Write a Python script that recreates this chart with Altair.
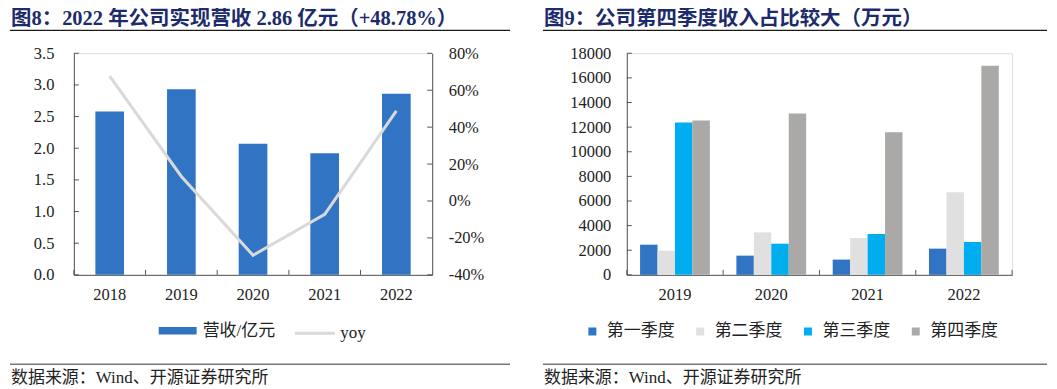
import altair as alt
import pandas as pd

# ---------------- data ----------------
YEARS = ["2018", "2019", "2020", "2021", "2022"]
REVENUE = [2.58, 2.93, 2.07, 1.92, 2.86]
YOY = [0.676, 0.133, -0.294, -0.072, 0.4878]
LEFT_TICKS = [0, 0.5, 1.0, 1.5, 2.0, 2.5, 3.0, 3.5]
RIGHT_TICKS = [-0.4, -0.2, 0.0, 0.2, 0.4, 0.6, 0.8]

Q_YEARS = ["2019", "2020", "2021", "2022"]
QUARTERS = ["第一季度", "第二季度", "第三季度", "第四季度"]
Q1 = [2450, 1560, 1240, 2130]
Q2 = [1960, 3450, 2990, 6710]
Q3 = [12370, 2530, 3320, 2670]
Q4 = [12530, 13100, 11590, 16980]
Q_TICKS = [0, 2000, 4000, 6000, 8000, 10000, 12000, 14000, 16000, 18000]

TITLE_L = "图8：2022 年公司实现营收 2.86 亿元（+48.78%）"
TITLE_R = "图9：公司第四季度收入占比较大（万元）"
SOURCE = "数据来源：Wind、开源证券研究所"
BAR_NAME = "营收/亿元"
LINE_NAME = "yoy"

# ---------------- styles ----------------
FONT = "'Liberation Serif', 'Noto Sans CJK SC', serif"
NAVY = "#1C2B6B"
AXIS_C = "#555555"
TXT_C = "#222222"
BLUE = "#3174C4"
LINE_C = "#D9D9D9"
Q_COLORS = ["#3174C4", "#E0E0E0", "#00AEEF", "#AAA9A8"]
LBL = 16.5

WL, HL = 359, 222
WR, HR = 386, 222

one = pd.DataFrame({"a": [0]})


def axis_common(**kw):
    return alt.Axis(title=None, grid=False, ticks=False, tickSize=0,
                    domainColor=AXIS_C, domainWidth=1,
                    labelFont=FONT, labelFontSize=LBL, labelColor=TXT_C, **kw)


def deco(title, x0, x1):
    t = alt.Chart(pd.DataFrame({"t": [title]})).mark_text(
        align="left", baseline="middle", font=FONT, fontSize=20.5,
        fontWeight="bold", color=NAVY
    ).encode(text="t:N", x=alt.value(x0 + 1), y=alt.value(-34))
    ul = alt.Chart(one).mark_rule(color="#1a1a1a", strokeWidth=1.3).encode(
        x=alt.value(x0), x2=alt.value(x1), y=alt.value(-23))
    fl = alt.Chart(one).mark_rule(color="#333333", strokeWidth=1).encode(
        x=alt.value(x0), x2=alt.value(x1), y=alt.value(311.5))
    ft = alt.Chart(pd.DataFrame({"t": [SOURCE]})).mark_text(
        align="left", baseline="middle", font=FONT, fontSize=17, color=TXT_C
    ).encode(text="t:N", x=alt.value(x0 + 1), y=alt.value(325))
    return [t, ul, fl, ft]


# ---------------- left chart ----------------
df_l = pd.DataFrame({"year": YEARS, "rev": REVENUE, "yoy": YOY,
                     "s_bar": BAR_NAME, "s_line": LINE_NAME})


def xl(bp=None):
    kw = {}
    if bp is not None:
        kw["bandPosition"] = bp
    return alt.X("year:N",
                 scale=alt.Scale(domain=YEARS, paddingInner=0, paddingOuter=0),
                 axis=axis_common(labelAngle=0, labelPadding=12), **kw)


bars_l = alt.Chart(df_l).mark_bar(width=alt.RelativeBandSize(0.4)).encode(
    x=xl(),
    y=alt.Y("rev:Q", scale=alt.Scale(domain=[0, 3.5], nice=False, zero=True),
            axis=axis_common(values=LEFT_TICKS, format=".1f", labelPadding=20)),
    color=alt.Color("s_bar:N", scale=alt.Scale(domain=[BAR_NAME], range=[BLUE]),
                    legend=alt.Legend(orient="none", legendX=85, legendY=259,
                                      title=None, symbolType="M-1,-0.2H1V0.2H-1Z",
                                      symbolSize=1444, symbolStrokeWidth=0,
                                      labelFont=FONT, labelFontSize=17,
                                      labelColor=TXT_C, labelOffset=6)),
)

line_l = alt.Chart(df_l).mark_line(strokeWidth=3).encode(
    x=xl(),
    y=alt.Y("yoy:Q", scale=alt.Scale(domain=[-0.4, 0.8], nice=False, zero=False),
            axis=axis_common(orient="right", values=RIGHT_TICKS,
                             labelExpr="round(datum.value*100) + '%'",
                             labelPadding=16)),
    stroke=alt.Stroke("s_line:N", scale=alt.Scale(domain=[LINE_NAME], range=[LINE_C]),
                      legend=alt.Legend(orient="none", legendX=220, legendY=259,
                                        title=None, symbolType="M-1,0H1",
                                        symbolSize=1600, symbolStrokeWidth=3,
                                        labelFont=FONT, labelFontSize=17,
                                        labelColor=TXT_C, labelOffset=4)),
)

xt_l = alt.Chart(df_l).mark_rule(color=AXIS_C).encode(
    x=xl(0), y=alt.value(HL - 5), y2=alt.value(HL))

ytl = alt.Chart(pd.DataFrame({"t": LEFT_TICKS})).mark_rule(color=AXIS_C).encode(
    y=alt.Y("t:Q", scale=alt.Scale(domain=[0, 3.5], nice=False), axis=None),
    x=alt.value(0), x2=alt.value(5))

ytr = alt.Chart(pd.DataFrame({"t": RIGHT_TICKS})).mark_rule(color=AXIS_C).encode(
    y=alt.Y("t:Q", scale=alt.Scale(domain=[-0.4, 0.8], nice=False, zero=False), axis=None),
    x=alt.value(WL - 5), x2=alt.value(WL))

left = alt.layer(bars_l, line_l, xt_l, ytl, ytr, *deco(TITLE_L, -64, 437)).resolve_scale(
    y="independent").properties(width=WL, height=HL)

# ---------------- right chart ----------------
rows = []
for i, y in enumerate(Q_YEARS):
    for q, vals in zip(QUARTERS, [Q1, Q2, Q3, Q4]):
        rows.append({"year": y, "quarter": q, "value": vals[i]})
df_r = pd.DataFrame(rows)


def xr(bp=None):
    kw = {}
    if bp is not None:
        kw["bandPosition"] = bp
    return alt.X("year:N",
                 scale=alt.Scale(domain=Q_YEARS, paddingInner=0, paddingOuter=0),
                 axis=axis_common(labelAngle=0, labelPadding=12), **kw)


bars_r = alt.Chart(df_r).mark_bar().encode(
    x=xr(),
    xOffset=alt.XOffset("quarter:N", scale=alt.Scale(domain=QUARTERS, paddingInner=0,
                                                     paddingOuter=0.76)),
    y=alt.Y("value:Q", scale=alt.Scale(domain=[0, 18000], nice=False),
            axis=axis_common(values=Q_TICKS, format="d", labelPadding=16)),
    color=alt.Color("quarter:N", scale=alt.Scale(domain=QUARTERS, range=Q_COLORS),
                    legend=alt.Legend(orient="none", legendX=-43, legendY=270,
                                      direction="horizontal", title=None,
                                      symbolType="square", symbolSize=64,
                                      symbolStrokeWidth=0, columnPadding=17,
                                      labelFont=FONT, labelFontSize=17,
                                      labelColor=TXT_C, labelOffset=6)),
)

xt_r = alt.Chart(pd.DataFrame({"year": Q_YEARS})).mark_rule(color=AXIS_C).encode(
    x=xr(0), y=alt.value(HR - 5), y2=alt.value(HR))
xt_end = alt.Chart(one).mark_rule(color=AXIS_C).encode(
    x=alt.value(WR), y=alt.value(HR - 5), y2=alt.value(HR))

ytq = alt.Chart(pd.DataFrame({"t": Q_TICKS})).mark_rule(color=AXIS_C).encode(
    y=alt.Y("t:Q", scale=alt.Scale(domain=[0, 18000], nice=False), axis=None),
    x=alt.value(0), x2=alt.value(5))

right = alt.layer(bars_r, xt_r, xt_end, ytq, *deco(TITLE_R, -84, 421)).resolve_scale(
    y="independent").properties(width=WR, height=HR)

chart = alt.hconcat(left, right, spacing=195, bounds="flush").resolve_scale(
    color="independent", stroke="independent"
).resolve_legend(color="independent", stroke="independent").properties(
    padding=0
).configure_view(stroke=None).configure(background="white")

chart.save("out.html", embed_options={"renderer": "svg", "actions": False})
